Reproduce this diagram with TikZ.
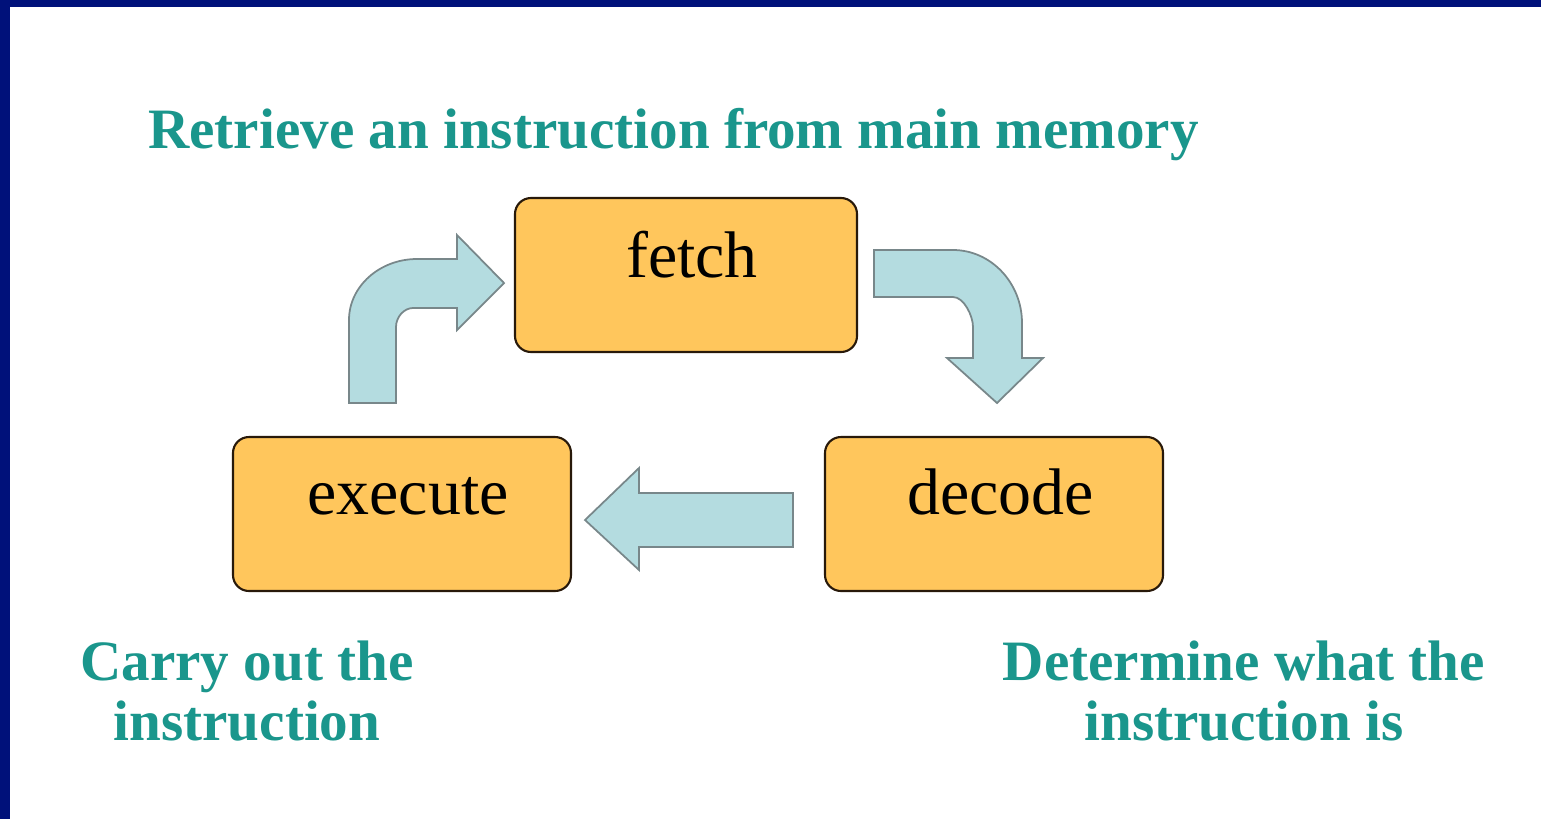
\documentclass[tikz,border=0pt]{standalone}
\usepackage{fontspec}
\setmainfont{Liberation Serif}
\definecolor{navy}{RGB}{0,17,122}
\definecolor{boxfill}{RGB}{255,198,92}
\definecolor{boxline}{RGB}{40,25,10}
\definecolor{arrfill}{RGB}{180,220,224}
\definecolor{arrline}{RGB}{120,135,138}
\definecolor{teal2}{RGB}{26,150,140}
\begin{document}
\begin{tikzpicture}[x=0.02cm,y=-0.02cm,
  stagebox/.style={draw=boxline, line width=1.2pt, fill=boxfill, rounded corners=0.32cm,
    minimum width=338*0.02cm, minimum height=154*0.02cm, inner sep=0pt,
    font=\fontsize{37.5pt}{40pt}\selectfont, text=black},
  blockarrow/.style={draw=arrline, line width=1pt, fill=arrfill, line join=miter},
  caption/.style={text=teal2, font=\fontsize{32.5pt}{34pt}\selectfont\bfseries, inner sep=0pt, align=center}
]
\useasboundingbox (0,0) rectangle (1541,819);
\fill[white] (0,0) rectangle (1541,819);
\fill[navy] (0,0) rectangle (1541,7);
\fill[navy] (0,0) rectangle (10,819);

% stages
\node[stagebox, minimum width=342*0.02cm, text height=26pt, text depth=23.5pt] (fetch) at (686,275) {\hspace*{6.8pt}fetch};
\node[stagebox, text height=26pt, text depth=26pt] (execute) at (402,514) {\hspace*{6.8pt}execute};
\node[stagebox, text height=26pt, text depth=26pt] (decode) at (994,514) {\hspace*{7.5pt}decode};

% block arrows
% fetch -> decode
\draw[blockarrow] (874,250) -- (953,250) .. controls (991,250) and (1022,283) .. (1022,323)
  -- (1022,358) -- (1043,358) -- (997,403) -- (947,358) -- (973,358) -- (973,327)
  .. controls (973,316) and (964,297) .. (953,297) -- (874,297) -- cycle;
% decode -> execute
\draw[blockarrow] (793,493) -- (639,493) -- (639,468) -- (585,520) -- (639,570) -- (639,547) -- (793,547) -- cycle;
% execute -> fetch
\draw[blockarrow] (349,403) -- (349,320) .. controls (349,286) and (380,259) .. (417,259)
  -- (457,259) -- (457,235) -- (504,283) -- (457,330) -- (457,308) -- (413,308)
  .. controls (404,308) and (396,317) .. (396,327) -- (396,403) -- cycle;

% captions
\node[caption, anchor=base west] (cfetch) at (148,148) {Retrieve an instruction from main memory};
\node[caption, anchor=base] (cexec) at (247,740) {Carry out the\\instruction};
\node[caption, anchor=base] (cdec) at (1244,740) {Determine what the\\instruction is};
\end{tikzpicture}
\end{document}
